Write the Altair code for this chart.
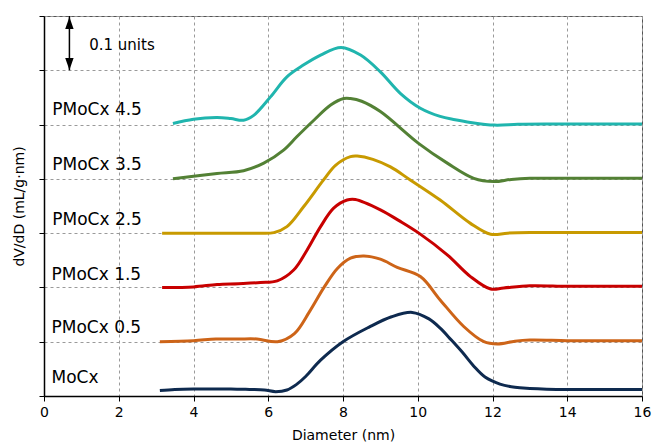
import altair as alt
import pandas as pd

# ---- data (offset pore-size distributions) ----
series = ["MoCx", "PMoCx 0.5", "PMoCx 1.5", "PMoCx 2.5", "PMoCx 3.5", "PMoCx 4.5"]
colors = ["#0E2A4F", "#CD6418", "#C80000", "#C89A00", "#538135", "#20B5AE"]

mocx_x = [3.1, 3.5, 4, 4.5, 5, 5.5, 5.9, 6.2, 6.5, 6.75, 7, 7.4, 8, 8.7, 9.3, 9.85, 10.3, 10.6, 10.9, 11.2, 11.5, 11.8, 12.2, 12.6, 13, 14, 15, 16]
mocx_v = [0.010, 0.012, 0.013, 0.013, 0.013, 0.012, 0.011, 0.008, 0.011, 0.021, 0.036, 0.066, 0.100, 0.127, 0.146, 0.154, 0.142, 0.125, 0.103, 0.080, 0.055, 0.035, 0.022, 0.016, 0.014, 0.012, 0.012, 0.012]

p05_x = [3.1, 4, 4.6, 5.2, 5.7, 6.25, 6.7, 7.1, 7.5, 7.85, 8.2, 8.56, 9.0, 9.45, 10.07, 10.6, 11.23, 11.77, 12.13, 12.6, 13.0, 14, 15, 16]
p05_v = [0.100, 0.102, 0.105, 0.105, 0.105, 0.100, 0.115, 0.155, 0.201, 0.235, 0.254, 0.258, 0.252, 0.237, 0.220, 0.177, 0.128, 0.100, 0.096, 0.101, 0.103, 0.102, 0.102, 0.102]

p15_x = [3.16, 4, 4.63, 5.2, 5.79, 6.24, 6.68, 7.04, 7.4, 7.75, 8.11, 8.33, 9.0, 9.5, 10.03, 10.79, 11.41, 11.95, 12.3, 13.0, 14, 15, 16]
p15_v = [0.200, 0.201, 0.2055, 0.207, 0.209, 0.212, 0.232, 0.269, 0.312, 0.346, 0.361, 0.362, 0.343, 0.323, 0.300, 0.260, 0.220, 0.197, 0.199, 0.203, 0.202, 0.202, 0.202]

p25_x = [3.16, 4, 5, 5.7, 6.15, 6.5, 6.95, 7.48, 7.8, 8.2, 8.38, 8.8, 9.27, 9.8, 10.6, 11.41, 11.95, 12.4, 13.0, 14, 15, 16]
p25_v = [0.300, 0.300, 0.300, 0.300, 0.301, 0.312, 0.349, 0.398, 0.425, 0.441, 0.442, 0.436, 0.422, 0.398, 0.361, 0.318, 0.298, 0.300, 0.301, 0.301, 0.301, 0.301]

p35_x = [3.45, 4, 4.63, 5.34, 5.88, 6.41, 6.77, 7.22, 7.67, 8.02, 8.2, 8.5, 9.0, 10.03, 10.79, 11.5, 12.04, 12.5, 13.0, 14, 15, 16]
p35_v = [0.400, 0.405, 0.410, 0.415, 0.429, 0.453, 0.478, 0.508, 0.536, 0.548, 0.548, 0.543, 0.524, 0.465, 0.429, 0.401, 0.395, 0.399, 0.401, 0.401, 0.401, 0.401]

p45_x = [3.45, 4.0, 4.63, 5.0, 5.34, 5.61, 6.06, 6.5, 6.95, 7.4, 7.95, 8.47, 9.0, 9.54, 10.07, 10.6, 11.0, 11.41, 12.05, 12.68, 13.5, 14, 15, 16]
p45_v = [0.502, 0.510, 0.513, 0.511, 0.508, 0.517, 0.551, 0.588, 0.610, 0.628, 0.642, 0.628, 0.597, 0.557, 0.530, 0.515, 0.509, 0.504, 0.499, 0.5005, 0.501, 0.501, 0.501, 0.501]

xs = [mocx_x, p05_x, p15_x, p25_x, p35_x, p45_x]
vs = [mocx_v, p05_v, p15_v, p25_v, p35_v, p45_v]

# label anchors (data units)
label_x = [0.2, 0.2, 0.2, 0.22, 0.22, 0.22]
label_v = [0.033, 0.126, 0.223, 0.325, 0.426, 0.527]

x_ticks = [0, 2, 4, 6, 8, 10, 12, 14, 16]
y_ticks = [0, 0.1, 0.2, 0.3, 0.4, 0.5, 0.6, 0.7]

rows = []
for name, xx, vv in zip(series, xs, vs):
    for i, (a, b) in enumerate(zip(xx, vv)):
        rows.append({"series": name, "d": a, "v": b, "order": i})
df = pd.DataFrame(rows)

lab_df = pd.DataFrame({"series": series, "d": label_x, "v": label_v})

FONT = "DejaVu Sans"

xscale = alt.Scale(domain=[0, 16], nice=False, zero=False)
yscale = alt.Scale(domain=[0, 0.7], nice=False)
cscale = alt.Scale(domain=series, range=colors)

lines = alt.Chart(df).mark_line(strokeWidth=3, interpolate="catmull-rom").encode(
    x=alt.X("d:Q", scale=xscale,
            axis=alt.Axis(values=x_ticks, title="Diameter (nm)", labelFontSize=14,
                          titleFontSize=14, titleFontWeight="normal", labelFont=FONT,
                          titleFont=FONT, labelColor="black", titleColor="black",
                          domainColor="black", domainWidth=1.5, tickColor="black",
                          tickSize=5, labelPadding=4, titlePadding=9, labelFlush=False,
                          grid=True, gridColor="#9a9a9a", gridDash=[3, 3], gridWidth=1)),
    y=alt.Y("v:Q", scale=yscale,
            axis=alt.Axis(values=y_ticks, labels=False, title="dV/dD (mL/g·nm)",
                          titleFontSize=14, titleFontWeight="normal", titleFont=FONT,
                          titleColor="black", domainColor="black", domainWidth=1.5,
                          tickColor="black", tickSize=5, titlePadding=12,
                          grid=True, gridColor="#9a9a9a", gridDash=[3, 3], gridWidth=1)),
    color=alt.Color("series:N", scale=cscale, legend=None),
    detail="series:N",
    order="order:Q",
)

labels = alt.Chart(lab_df).mark_text(align="left", baseline="middle", fontSize=17,
                                      font=FONT, color="black").encode(
    x=alt.X("d:Q", scale=xscale), y=alt.Y("v:Q", scale=yscale), text="series:N")

# "0.1 units" scale-bar annotation
bar_x = [0.68]
bar_lo = [0.6]
bar_hi = [0.7]
bar_df = pd.DataFrame({"d": bar_x, "lo": bar_lo, "hi": bar_hi})
rule = alt.Chart(bar_df).mark_rule(color="black", strokeWidth=1.5).encode(
    x=alt.X("d:Q", scale=xscale), y=alt.Y("lo:Q", scale=yscale), y2="hi:Q")
head_up = alt.Chart(pd.DataFrame({"d": bar_x, "v": [0.687]})).mark_point(
    shape="M0,-1L-0.7,1L0.7,1Z", filled=True, color="black", size=144, opacity=1).encode(
    x=alt.X("d:Q", scale=xscale), y=alt.Y("v:Q", scale=yscale))
head_dn = alt.Chart(pd.DataFrame({"d": bar_x, "v": [0.6114]})).mark_point(
    shape="M0,1L-0.7,-1L0.7,-1Z", filled=True, color="black", size=144, opacity=1).encode(
    x=alt.X("d:Q", scale=xscale), y=alt.Y("v:Q", scale=yscale))
unit_txt = alt.Chart(pd.DataFrame({"d": [1.21], "v": [0.646], "t": ["0.1 units"]})).mark_text(
    align="left", baseline="middle", fontSize=15, font=FONT, color="black").encode(
    x=alt.X("d:Q", scale=xscale), y=alt.Y("v:Q", scale=yscale), text="t:N")

chart = alt.layer(lines, labels, rule, head_up, head_dn, unit_txt).properties(
    width=598, height=380,
    autosize=alt.AutoSizeParams(type="none"),
    padding={"left": 44, "top": 16, "right": 12, "bottom": 51},
    background="white",
).configure_view(stroke="#555555", strokeWidth=1)

chart.save("out.html", embed_options={"renderer": "svg", "actions": False})
